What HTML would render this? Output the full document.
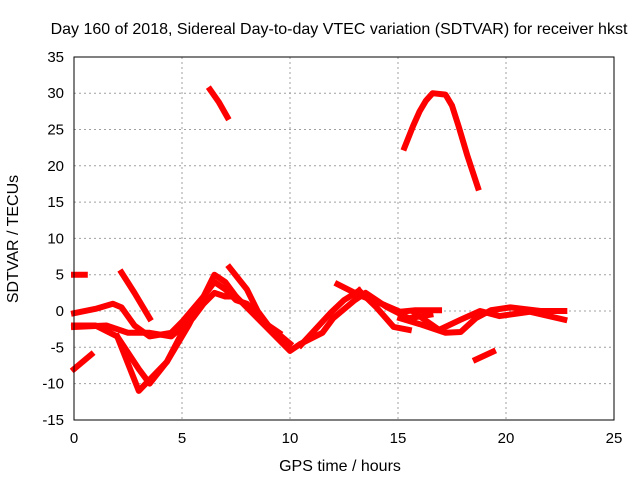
<!DOCTYPE html>
<html><head><meta charset="utf-8"><style>
body{margin:0;background:#fff;}
svg{display:block;font-family:"Liberation Sans",sans-serif;}
</style></head><body>
<svg id="chart" width="640" height="480">
<text x="339" y="34" font-size="16" text-anchor="middle">Day 160 of 2018, Sidereal Day-to-day VTEC variation (SDTVAR) for receiver hkst</text>
<text x="340" y="471" font-size="16" text-anchor="middle">GPS time / hours</text>
<text transform="translate(18,239) rotate(-90)" font-size="16" text-anchor="middle">SDTVAR / TECUs</text>
<g id="grid"></g><g id="marks"></g>
<rect x="74" y="57" width="540" height="363" fill="none" stroke="#000" stroke-width="1"/>
</svg>
<script>
const xTicks=[0,5,10,15,20,25];
const yTicks=[-15,-10,-5,0,5,10,15,20,25,30,35];
const segT=[
[0,0.5],
[0,1,1.8,2.2,2.8,3.5,4.5,5,6,6.5,7,7.5,8,9,9.5],
[0,1.5,2.5,3.5,4.5,5.5,6,6.5,7,7.5,8.5,9.5,10,10.5,11.5,12,13,13.5,14.5,15.5,16.5],
[0,1,2,3,3.5,4.3,5.3,6,6.5,7,7.5],
[2,3,4.3,5],
[2.2,2.8,3.5],
[0,0.8],
[6.3,6.7,7.1],
[7.2,7.6,8,8.5,9,10],
[15.3,15.7,16,16.3,16.6,17.2,17.5,17.8,18.2,18.7],
[18.6,19.4],
[10.5,11.9,12.5,13.2],
[12.2,13.2,14.4,15.1,15.8,16.9],
[13.2,14,14.8,15.5],
[15.1,16,17.2,17.9,18.6,19.3,20.2,21.6,22.7],
[15.8,16.9,17.9,18.8,19.7,21.1,22.7]
];
const segV=[
[5,5],
[-0.3,0.3,1,0.5,-2,-3.5,-3,-1.5,2,4,3,1.5,1,-2,-3],
[-2.2,-2,-3,-3,-3.5,-1,1,2.5,2,2,-1,-4,-5.5,-4.5,-3,-1,1.5,2.5,0.5,-1,-0.5],
[-2,-2,-3.5,-8,-10,-7,-2,2,5,4,2],
[-3.5,-11,-7,-3],
[5.3,2.5,-1],
[-8,-6],
[30.5,28.8,26.7],
[6,4.5,3,0,-2,-4.5],
[22.5,25.5,27.5,29,30,29.8,28.3,25.5,21.5,17],
[-6.7,-5.6],
[-4.7,-0.2,1.5,2.8],
[3.7,2.2,0.8,-0.1,0.1,0.1],
[2.8,0.5,-2.2,-2.6],
[-1,-1.8,-3,-2.9,-1,0.1,0.5,0,0],
[-0.3,-2.6,-1.2,0,-0.7,-0.1,-1.2]
];
const X=t=>74+t*21.6, Y=v=>311-v*7.26;
const NS="http://www.w3.org/2000/svg";
const grid=document.getElementById('grid'), marks=document.getElementById('marks');
xTicks.forEach(t=>{
 if(t>0&&t<25){const l=document.createElementNS(NS,'line');
 
 
 l.setAttribute('x1',X(t));l.setAttribute('x2',X(t));l.setAttribute('y1',57);l.setAttribute('y2',420);
 l.setAttribute('stroke','#a0a0a0');l.setAttribute('stroke-dasharray','2,3');grid.appendChild(l);}
 const tx=document.createElementNS(NS,'text');
 
 
 tx.setAttribute('x',X(t));tx.setAttribute('y',443);tx.setAttribute('font-size','15');tx.setAttribute('text-anchor','middle');
 tx.textContent=t;grid.appendChild(tx);
});
yTicks.forEach(v=>{
 if(v>-15&&v<35){const l=document.createElementNS(NS,'line');
 
 
 l.setAttribute('x1',74);l.setAttribute('x2',614);l.setAttribute('y1',Y(v));l.setAttribute('y2',Y(v));
 l.setAttribute('stroke','#a0a0a0');l.setAttribute('stroke-dasharray','2,3');grid.appendChild(l);}
 const tx=document.createElementNS(NS,'text');
 
 
 tx.setAttribute('x',64);tx.setAttribute('y',Y(v)+5);tx.setAttribute('font-size','15');tx.setAttribute('text-anchor','end');
 tx.textContent=v;grid.appendChild(tx);
});
segT.forEach((ts,i)=>{
 const p=document.createElementNS(NS,'polyline');
 
 
 p.setAttribute('points',ts.map((t,j)=>X(t)+','+Y(segV[i][j])).join(' '));
 p.setAttribute('fill','none');p.setAttribute('stroke','#f00');p.setAttribute('stroke-width','6');
 p.setAttribute('stroke-linejoin','round');p.setAttribute('stroke-linecap','square');
 marks.appendChild(p);
});
</script>
</body></html>
